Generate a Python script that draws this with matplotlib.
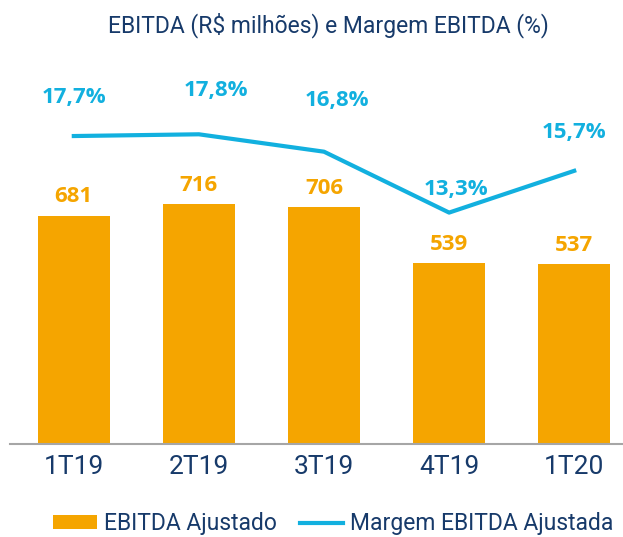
import matplotlib.pyplot as plt

quarters = ["1T19", "2T19", "3T19", "4T19", "1T20"]
ebitda = [681, 716, 706, 539, 537]
margem = [17.7, 17.8, 16.8, 13.3, 15.7]
margem_labels = ["17,7%", "17,8%", "16,8%", "13,3%", "15,7%"]

narrow = "Roboto"
navy = "#173A6A"
orange = "#F5A500"
cyan = "#12B0DF"

fig = plt.figure(figsize=(6.23, 5.37), dpi=100)
ax = fig.add_axes([10 / 623, 93 / 537, 613 / 623, 384 / 537])
x = list(range(len(quarters)))

ax.bar(x, ebitda, width=0.58, color=orange, label="EBITDA Ajustado", zorder=2)
ax.set_xlim(-0.51, 4.39)
ax.set_ylim(0, 1146)
for xi, v in zip(x, ebitda):
    ax.annotate(str(v), (xi, v), xytext=(0, 6), textcoords="offset points",
                ha="center", va="bottom", fontsize=16, fontweight="bold",
                color=orange, family="Open Sans")

ax2 = ax.twinx()
ax2.plot(x, margem, color=cyan, lw=3, label="Margem EBITDA Ajustada", zorder=3)
ax2.set_ylim(0, 22.07)
offsets = [(0, 20), (12, 24), (9, 29), (5, 9), (0, 20)]
for xi, v, lab, off in zip(x, margem, margem_labels, offsets):
    ax2.annotate(lab, (xi, v), xytext=off, textcoords="offset points",
                 ha="center", va="bottom", fontsize=16, fontweight="bold",
                 color=cyan, family="Open Sans")

for a in (ax, ax2):
    for s in a.spines.values():
        s.set_visible(False)
    a.set_yticks([])
ax.spines["bottom"].set_visible(True)
ax.spines["bottom"].set_color("#A6A6A6")
ax.spines["bottom"].set_linewidth(1.5)
ax.set_xticks(x)
ax.set_xticklabels(quarters, fontsize=19, color=navy, family=narrow)
ax.tick_params(axis="x", length=0, pad=8)

fig.text(0.527, 0.953, "EBITDA (R$ milhões) e Margem EBITDA (%)", ha="center",
         va="center", fontsize=16.5, color=navy, family=narrow)

h1, l1 = ax.get_legend_handles_labels()
h2, l2 = ax2.get_legend_handles_labels()
fig.legend(h1 + h2, l1 + l2, loc="lower center", bbox_to_anchor=(0.535, -0.035),
           ncol=2, frameon=False, handlelength=1.9, handleheight=0.55,
           handletextpad=0.3, columnspacing=1.0,
           prop={"family": narrow, "size": 16.5}, labelcolor=navy)

fig.savefig("out.png", dpi=100)
